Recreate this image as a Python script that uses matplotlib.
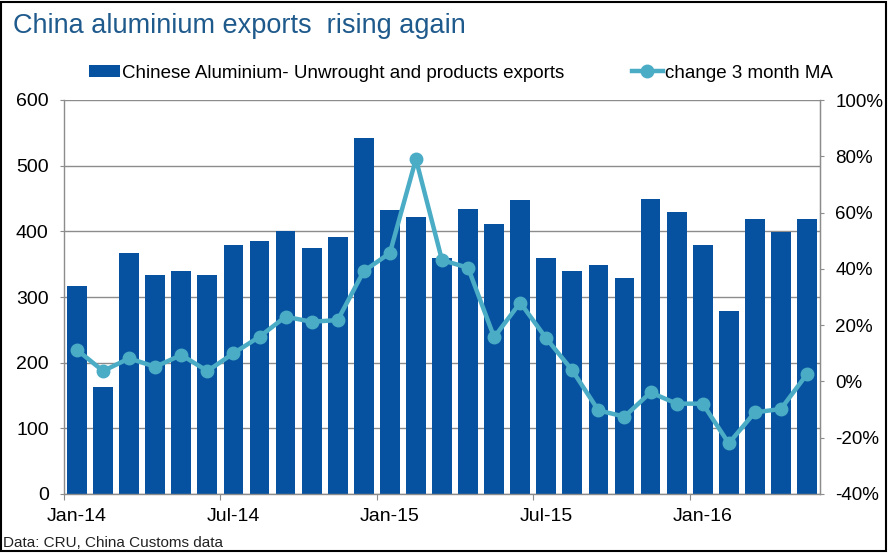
import matplotlib
matplotlib.use("Agg")
import matplotlib.pyplot as plt
from matplotlib.patches import Rectangle, Patch
from matplotlib.lines import Line2D
from matplotlib.ticker import FixedLocator, NullFormatter, FuncFormatter

months = ["Jan-14","Feb-14","Mar-14","Apr-14","May-14","Jun-14","Jul-14","Aug-14","Sep-14","Oct-14","Nov-14","Dec-14",
          "Jan-15","Feb-15","Mar-15","Apr-15","May-15","Jun-15","Jul-15","Aug-15","Sep-15","Oct-15","Nov-15","Dec-15",
          "Jan-16","Feb-16","Mar-16","Apr-16","May-16"]
exports = [317, 163, 367, 333, 340, 333, 379, 385, 400, 375, 391, 542,
           432, 422, 359, 434, 411, 448, 359, 340, 349, 329, 449, 429,
           379, 279, 419, 399, 419]
change_3m_ma = [11.2, 3.7, 8.2, 5.2, 9.4, 3.7, 10.0, 15.9, 23.0, 21.2, 21.8, 39.2,
                45.6, 79.0, 43.1, 40.4, 15.7, 28.0, 15.3, 3.9, -10.3, -12.5, -3.9, -7.9,
                -7.9, -22.0, -11.0, -9.8, 2.6]
bar_label = "Chinese Aluminium- Unwrought and products exports"
line_label = "change 3 month MA"
title = "China aluminium exports  rising again"
source = "Data: CRU, China Customs data"

plt.rcParams['font.family'] = ['Liberation Sans', 'DejaVu Sans']

BAR = "#0652A0"
LINE = "#4BACC6"
GRID = "#8C8C8C"

fig = plt.figure(figsize=(8.89, 5.53), dpi=100)
ax = fig.add_axes([64/889, 1-494/553, (820-64)/889, (494-100)/553])
x = list(range(len(months)))

ax.set_axisbelow(True)
ax.yaxis.grid(True, color=GRID, linewidth=1.0)
ax.bar(x, exports, width=0.76, color=BAR, zorder=2)
ax.set_ylim(0, 600)
ax.set_yticks(range(0, 601, 100))
ax.set_xlim(-0.5, len(months) - 0.5)

ax.xaxis.set_major_locator(FixedLocator([i - 0.5 for i in range(0, len(months), 6)]))
ax.xaxis.set_major_formatter(NullFormatter())
ax.xaxis.set_minor_locator(FixedLocator(list(range(0, len(months), 6))))
ax.set_xticklabels([months[i] for i in range(0, len(months), 6)], minor=True)
ax.tick_params(axis='x', which='major', length=4, color=GRID, direction='out')
ax.tick_params(axis='x', which='minor', length=0, pad=10, labelsize=14)
ax.tick_params(axis='y', length=3, color=GRID, labelsize=14, pad=8)

ax.spines['top'].set_visible(False)
for s in ['left', 'bottom', 'right']:
    ax.spines[s].set_color(GRID)
    ax.spines[s].set_linewidth(1.0)

ax2 = ax.twinx()
ax2.plot(x, change_3m_ma, color=LINE, linewidth=3.2, marker='o', markersize=9, zorder=3)
ax2.set_ylim(-40, 100)
ax2.set_yticks(range(-40, 101, 20))
ax2.yaxis.set_major_formatter(FuncFormatter(lambda v, p: f"{int(v)}%"))
ax2.tick_params(axis='y', length=3, color=GRID, labelsize=13.5, pad=8)
for s in ['top', 'left', 'bottom']:
    ax2.spines[s].set_visible(False)
ax2.spines['right'].set_color(GRID)

fig.text(13/889, 1-26/553, title, fontsize=19.5, color="#1F5A8C", va='center', ha='left')
fig.text(3/889, 1-543/553, source, fontsize=11, color="#222222", va='center', ha='left')

handles = [Patch(facecolor=BAR, edgecolor='none'),
           Line2D([0], [0], color=LINE, linewidth=3.2, marker='o', markersize=9)]
fig.legend(handles, [bar_label, line_label], loc='center', bbox_to_anchor=(461/889, 1-73/553),
           ncol=2, frameon=False, fontsize=13.5, handlelength=1.65, handletextpad=0.1,
           columnspacing=3.6, handleheight=0.6)

fig.patches.append(Rectangle((0.001, 0.003), 0.996, 0.994, transform=fig.transFigure,
                             fill=False, edgecolor='black', linewidth=1.5))

fig.savefig("out.png", dpi=100)
